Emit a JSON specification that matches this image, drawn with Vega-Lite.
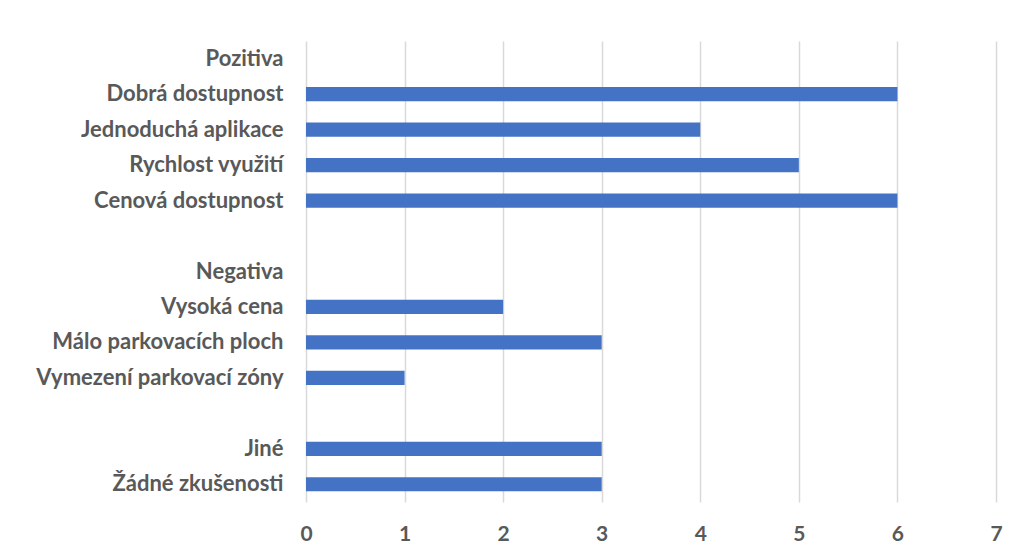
{
  "$schema": "https://vega.github.io/schema/vega-lite/v6.json",
  "autosize": "none",
  "width": 690,
  "height": 461,
  "padding": {"left": 306, "top": 41, "right": 21, "bottom": 55},
  "background": "white",
  "data": {
    "values": [
      {"kategorie": "Pozitiva", "pocet": null},
      {"kategorie": "Dobrá dostupnost\u2005", "pocet": 6},
      {"kategorie": "Jednoduchá aplikace", "pocet": 4},
      {"kategorie": "Rychlost využití", "pocet": 5},
      {"kategorie": "Cenová dostupnost", "pocet": 6},
      {"kategorie": " ", "pocet": null},
      {"kategorie": "Negativa", "pocet": null},
      {"kategorie": "Vysoká cena", "pocet": 2},
      {"kategorie": "Málo parkovacích ploch", "pocet": 3},
      {"kategorie": "Vymezení parkovací zóny\u2005", "pocet": 1},
      {"kategorie": "  ", "pocet": null},
      {"kategorie": "Jiné", "pocet": 3},
      {"kategorie": "Žádné zkušenosti", "pocet": 3}
    ]
  },
  "mark": {"type": "bar", "color": "#4472C4"},
  "encoding": {
    "y": {
      "field": "kategorie",
      "type": "nominal",
      "scale": {
        "domain": ["Pozitiva", "Dobrá dostupnost\u2005", "Jednoduchá aplikace", "Rychlost využití", "Cenová dostupnost", " ", "Negativa", "Vysoká cena", "Málo parkovacích ploch", "Vymezení parkovací zóny\u2005", "  ", "Jiné", "Žádné zkušenosti"],
        "paddingInner": 0.6,
        "paddingOuter": 0.3
      },
      "axis": {
        "title": null,
        "domain": false,
        "ticks": false,
        "grid": false,
        "labelPadding": 23,
        "labelFont": "Lato",
        "labelFontWeight": "bold",
        "labelFontSize": 22,
        "labelColor": "#595959",
        "labelLimit": 400
      }
    },
    "x": {
      "field": "pocet",
      "type": "quantitative",
      "scale": {"domain": [0, 7], "nice": false},
      "axis": {
        "title": null,
        "domain": false,
        "ticks": false,
        "values": [0, 1, 2, 3, 4, 5, 6, 7],
        "grid": true,
        "gridColor": "#D9D9D9",
        "gridWidth": 1.5,
        "labelPadding": 21,
        "labelFont": "Lato",
        "labelFontWeight": "bold",
        "labelFontSize": 21,
        "labelColor": "#595959",
        "labelFlush": false
      }
    }
  },
  "config": {"view": {"stroke": null}}
}
